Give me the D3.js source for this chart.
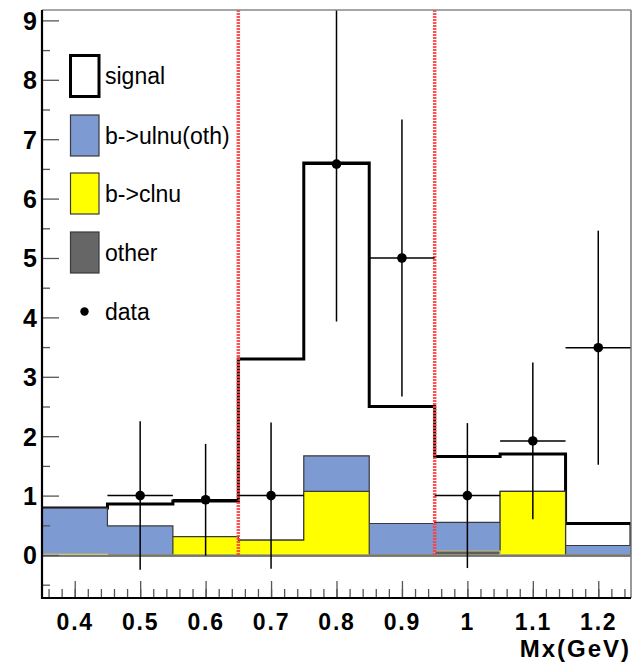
<!DOCTYPE html>
<html>
<head>
<meta charset="utf-8">
<script src="https://cdn.jsdelivr.net/npm/d3@7"></script>
<style>
  html, body { margin: 0; padding: 0; background: #fff; }
  svg { display: block; }
  text { font-family: "Liberation Sans", Arial, Helvetica, sans-serif; }
</style>
</head>
<body>
<svg id="chart" width="635" height="662"></svg>
<script>
// Bin layout: 9 bins of width 0.1 GeV covering 0.35 - 1.25
const binLow    = [0.35, 0.45, 0.55, 0.65, 0.75, 0.85, 0.95, 1.05, 1.15];
const binHigh   = 1.25;

// Stacked components, bottom to top
const other     = [0.02, 0.00, 0.00, 0.00, 0.00, 0.00, 0.07, 0.00, 0.00];
const clnu      = [0.00, 0.00, 0.31, 0.25, 1.07, 0.00, 0.00, 1.07, 0.00];
const ulnuOth   = [0.77, 0.49, 0.00, 0.00, 0.60, 0.53, 0.48, 0.00, 0.16];
const signal    = [0.00, 0.37, 0.60, 3.05, 4.93, 1.97, 1.11, 0.63, 0.37];

// Data points with symmetric errors
const dataX     = [0.5, 0.6, 0.7, 0.8, 0.9, 1.0, 1.1, 1.2];
const dataY     = [1.00, 0.93, 1.00, 6.58, 5.00, 1.00, 1.92, 3.49];
const dataErr   = [1.25, 0.94, 1.23, 2.65, 2.33, 1.22, 1.32, 1.97];

// Signal-region boundaries
const cutLines  = [0.65, 0.95];

// Axis ticks
const xTicks    = [0.4, 0.5, 0.6, 0.7, 0.8, 0.9, 1.0, 1.1, 1.2];
const yTicks    = [0, 1, 2, 3, 4, 5, 6, 7, 8, 9];
const legendLabels = ["signal", "b->ulnu(oth)", "b->clnu", "other", "data"];

const svg = d3.select("#chart");
const pLeft = 42, pRight = 631, pTop = 10, pBottom = 598;

const x = d3.scaleLinear().domain([0.35, 1.25]).range([pLeft, pRight]);
const y = d3.scaleLinear().domain([-0.724, 9.175]).range([pBottom, pTop]);

svg.append("defs").append("clipPath").attr("id", "plotClip")
  .append("rect").attr("x", pLeft).attr("y", pTop)
  .attr("width", pRight - pLeft).attr("height", pBottom - pTop);

const plot = svg.append("g").attr("clip-path", "url(#plotClip)");

// cumulative sums for stacking
const cum1 = other.slice();
const cum2 = cum1.map((v, i) => v + clnu[i]);
const cum3 = cum2.map((v, i) => v + ulnuOth[i]);
const cum4 = cum3.map((v, i) => v + signal[i]);

const stepArea = d3.area()
  .x(d => x(d[0]))
  .y0(y(0))
  .y1(d => y(d[1]))
  .curve(d3.curveStepAfter);

function pts(vals) {
  const p = vals.map((v, i) => [binLow[i], v]);
  p.push([binHigh, vals[vals.length - 1]]);
  return p;
}

// draw from the total down, as a stack is painted
plot.append("path").attr("d", stepArea(pts(cum4)))
  .attr("fill", "#ffffff").attr("stroke", "#000").attr("stroke-width", 3)
  .attr("stroke-linejoin", "miter");
plot.append("path").attr("d", stepArea(pts(cum3)))
  .attr("fill", "#7d9ad2").attr("stroke", "#3a3a3a").attr("stroke-width", 1.2);
plot.append("path").attr("d", stepArea(pts(cum2)))
  .attr("fill", "#ffff00").attr("stroke", "#3a3a3a").attr("stroke-width", 1.2);
plot.append("path").attr("d", stepArea(pts(cum1)))
  .attr("fill", "#5e5e5e").attr("stroke", "#c4c49c").attr("stroke-width", 1.2);

// red dotted cut lines
cutLines.forEach(c => {
  plot.append("line")
    .attr("x1", x(c)).attr("x2", x(c))
    .attr("y1", y(0)).attr("y2", pTop)
    .attr("stroke", "#ff4040").attr("stroke-width", 3.5)
    .attr("stroke-dasharray", "2,1").attr("opacity", 0.9);
});

// data points with error bars
const dg = plot.append("g");
dataX.forEach((cx, i) => {
  const v = dataY[i], e = dataErr[i];
  dg.append("line").attr("x1", x(cx)).attr("x2", x(cx))
    .attr("y1", y(v - e)).attr("y2", y(v + e))
    .attr("stroke", "#000").attr("stroke-width", 1.5);
  dg.append("line").attr("x1", x(cx - 0.05)).attr("x2", x(cx + 0.05))
    .attr("y1", y(v)).attr("y2", y(v))
    .attr("stroke", "#000").attr("stroke-width", 1.5);
  dg.append("circle").attr("cx", x(cx)).attr("cy", y(v)).attr("r", 4.8)
    .attr("fill", "#000");
});

// frame
svg.append("line").attr("x1", pLeft).attr("x2", pRight).attr("y1", pTop).attr("y2", pTop)
  .attr("stroke", "#888").attr("stroke-width", 1.5);
svg.append("line").attr("x1", pRight).attr("x2", pRight).attr("y1", pTop).attr("y2", pBottom)
  .attr("stroke", "#777").attr("stroke-width", 1.5);

// axes (ticks pointing inward)
const yMinor = d3.range(-0.5, 9.01, 0.5).filter(v => Math.abs(v - Math.round(v)) > 0.01);
const xMinor = d3.range(0.36, 1.245, 0.02);

const yAxis = svg.append("g").attr("transform", `translate(${pLeft},0)`)
  .call(d3.axisLeft(y).tickValues(yTicks).tickSize(-17).tickPadding(5)
    .tickFormat(d3.format("d")));
yAxis.select(".domain").remove();
yAxis.selectAll("line").attr("stroke", "#555").attr("stroke-width", 1.3);
yAxis.selectAll("text").attr("font-size", 25).attr("font-weight", "bold")
  .attr("fill", "#000").attr("dy", "0.36em");

const yAxisMinor = svg.append("g").attr("transform", `translate(${pLeft},0)`)
  .call(d3.axisLeft(y).tickValues(yMinor).tickSize(-8).tickFormat(""));
yAxisMinor.select(".domain").remove();
yAxisMinor.selectAll("line").attr("stroke", "#555").attr("stroke-width", 1.3);

const xAxis = svg.append("g").attr("transform", `translate(0,${pBottom})`)
  .call(d3.axisBottom(x).tickValues(xTicks).tickSize(-17).tickPadding(15.5)
    .tickFormat(d3.format("~g")));
xAxis.select(".domain").remove();
xAxis.selectAll("line").attr("stroke", "#555").attr("stroke-width", 1.3);
xAxis.selectAll("text").attr("font-size", 23).attr("font-weight", "bold")
  .attr("fill", "#000").attr("letter-spacing", "1.8px");

const xAxisMinor = svg.append("g").attr("transform", `translate(0,${pBottom})`)
  .call(d3.axisBottom(x).tickValues(xMinor).tickSize(-9).tickFormat(""));
xAxisMinor.select(".domain").remove();
xAxisMinor.selectAll("line").attr("stroke", "#555").attr("stroke-width", 1.3);

svg.append("line").attr("x1", pLeft).attr("x2", pLeft).attr("y1", pTop).attr("y2", pBottom + 1)
  .attr("stroke", "#000").attr("stroke-width", 2.2);
svg.append("line").attr("x1", pLeft - 1).attr("x2", pRight).attr("y1", pBottom).attr("y2", pBottom)
  .attr("stroke", "#000").attr("stroke-width", 2.2);

svg.append("text").attr("x", 631).attr("y", 657).attr("text-anchor", "end")
  .attr("font-size", 24).attr("font-weight", "bold").attr("letter-spacing", "2px")
  .text("Mx(GeV)");

// legend
const legendFill   = ["#ffffff", "#7d9ad2", "#ffff00", "#666666"];
const legendStroke = ["#000", "#3a3a3a", "#3a3a3a", "#3a3a3a"];
const legendWidth  = [3, 1.2, 1.2, 1.2];
const lg = svg.append("g");
const rowY = [76, 135.5, 193.5, 252.5, 311.5];
legendLabels.forEach((lab, i) => {
  if (i < 4) {
    lg.append("rect").attr("x", 70.5).attr("y", rowY[i] - 20.5)
      .attr("width", 28.5).attr("height", 41)
      .attr("fill", legendFill[i]).attr("stroke", legendStroke[i])
      .attr("stroke-width", legendWidth[i]);
  } else {
    lg.append("circle").attr("cx", 84.5).attr("cy", rowY[i]).attr("r", 4.2).attr("fill", "#000");
  }
  lg.append("text").attr("x", 105).attr("y", rowY[i]).attr("dy", "0.35em")
    .attr("font-size", 23).attr("fill", "#000").text(lab);
});
</script>
</body>
</html>
